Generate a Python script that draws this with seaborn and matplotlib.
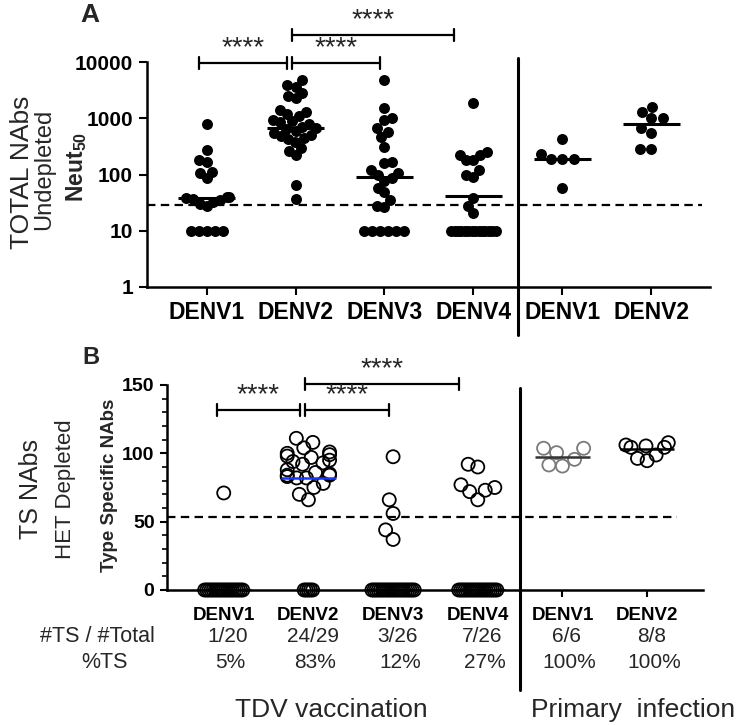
import numpy as np
import pandas as pd
import matplotlib
matplotlib.use("Agg")
import matplotlib.pyplot as plt
from matplotlib.transforms import blended_transform_factory
from matplotlib.ticker import MultipleLocator, NullLocator
import seaborn as sns

# grupos: vacuna TDV (4 serotipos) e infección primaria (2)
groups = ["TDV DENV1", "TDV DENV2", "TDV DENV3", "TDV DENV4", "PRIM DENV1", "PRIM DENV2"]
tick_labels = ["DENV1", "DENV2", "DENV3", "DENV4", "DENV1", "DENV2"]

# Panel A: Neut50 sin depletar
total_denv1 = [800, 268, 178, 170, 110, 105, 85, 40, 40, 38, 36, 35, 32, 30, 27,
               10, 10, 10, 10, 10]
total_denv2 = [4800, 3900, 3600, 2800, 2500, 2300, 1400, 1300, 1200, 1100, 950, 900,
               850, 800, 700, 680, 650, 600, 550, 500, 480, 450, 420, 380, 300, 260,
               220, 65, 37]
total_denv3 = [4800, 1500, 1000, 920, 660, 560, 460, 305, 165, 160, 118, 105, 96, 85,
               78, 57, 48, 35, 28, 26, 10, 10, 10, 10, 10, 10]
total_denv4 = [1860, 248, 219, 219, 180, 180, 118, 96, 89, 38, 28, 21,
               10, 10, 10, 10, 10, 10, 10, 10, 10, 10, 10, 10, 10, 10]
total_prim1 = [420, 235, 185, 185, 185, 58]
total_prim2 = [1590, 1290, 1030, 990, 680, 550, 280, 280]
total_lines = [38, 660, 92, 42, 192, 800]
total_cutoff = 28.7

# Panel B: NAbs tipo-específicos (HET depletados)
ts_denv1 = [71, 0, 0, 0, 0, 0, 0, 0, 0, 0, 0, 0, 0, 0, 0, 0, 0, 0, 0, 0]
ts_denv2 = [111, 108, 104, 101, 100, 99, 98, 97, 95, 94, 93, 92, 88, 86, 85, 84, 84,
            83, 82, 82, 78, 75, 70, 66, 0, 0, 0, 0, 0]
ts_denv3 = [97.5, 66, 56, 44, 37, 0, 0, 0, 0, 0, 0, 0, 0, 0, 0, 0, 0, 0, 0, 0, 0, 0,
            0, 0, 0, 0]
ts_denv4 = [92, 90, 77, 75, 73, 72, 66, 0, 0, 0, 0, 0, 0, 0, 0, 0, 0, 0, 0, 0, 0, 0,
            0, 0, 0, 0]
ts_prim1 = [103.7, 103.7, 100.5, 95.6, 91.5, 90.7]
ts_prim2 = [107.8, 106.1, 105.4, 104.4, 104.4, 98.8, 96.3, 94.6]
ts_lines = [0, 82, 0, 0, 97.5, 103]
ts_cutoff = 53.5

ts_counts = ["1/20", "24/29", "3/26", "7/26", "6/6", "8/8"]
ts_percent = ["5%", "83%", "12%", "27%", "100%", "100%"]

# comparaciones significativas (índices de grupo) y nivel del corchete
brackets = [(0, 1), (1, 2), (1, 3)]
bracket_level = [0, 0, 1]
bracket_trim = [0.1, 0.05, 0.22]

total_values = [total_denv1, total_denv2, total_denv3, total_denv4, total_prim1, total_prim2]
ts_values = [ts_denv1, ts_denv2, ts_denv3, ts_denv4, ts_prim1, ts_prim2]

df_a = pd.DataFrame({
    "group": [g for g, v in zip(groups, total_values) for _ in v],
    "neut": [x for v in total_values for x in v],
})
df_b = pd.DataFrame({
    "group": [g for g, v in zip(groups, ts_values) for _ in v],
    "ts": [x for v in ts_values for x in v],
})

sns.set_theme(style="ticks")
plt.rcParams["font.family"] = ["Liberation Sans", "DejaVu Sans"]
plt.rcParams["mathtext.fontset"] = "custom"
plt.rcParams["mathtext.rm"] = "Liberation Sans"
plt.rcParams["mathtext.bf"] = "Liberation Sans:bold"

W, H = 742, 725
fig = plt.figure(figsize=(W / 100, H / 100), dpi=100)
axA = fig.add_axes([147 / W, 1 - 287 / H, (710 - 147) / W, 225 / H])
axB = fig.add_axes([167 / W, 1 - 590 / H, (703 - 167) / W, 205 / H])
xlim = (-0.67, 5.66)


def squeeze(ax, half, step):
    # fija el enjambre y lo estrecha (puntos solapados como en GraphPad)
    ax.figure.canvas.draw()
    for coll in ax.collections:
        off = np.array(coll.get_offsets())
        if len(off) == 0:
            continue
        c = np.round(np.median(off[:, 0]))
        dev = off[:, 0] - c
        m = np.abs(dev).max()
        if m > half:
            off[:, 0] = c + dev * half / m
        # filas de valores repetidos: banda continua
        for yv in np.unique(off[:, 1]):
            idx = np.where(off[:, 1] == yv)[0]
            if len(idx) >= 5:
                w = min(half, step * (len(idx) - 1) / 2)
                idx = idx[np.argsort(off[idx, 0])]
                off[idx, 0] = c + np.linspace(-w, w, len(idx))
        coll.set_offsets(off)
        coll.set_clip_on(False)
        if "draw" in coll.__dict__:
            del coll.draw


def bracket(ax, x0, x1, y, h, trans):
    kw = dict(color="black", lw=1.6, transform=trans, clip_on=False)
    ax.plot([x0, x1], [y, y], **kw)
    ax.plot([x0, x0], [y - h, y + h], **kw)
    ax.plot([x1, x1], [y - h, y + h], **kw)


# ---------- Panel A ----------
sns.swarmplot(data=df_a, x="group", y="neut", order=groups, color="black",
              size=7.9, log_scale=True, warn_thresh=1, ax=axA)
axA.set_xlim(*xlim)
axA.set_ylim(1, 10000)
axA.set_yticks([1, 10, 100, 1000, 10000])
axA.set_yticklabels(["1", "10", "100", "1000", "10000"], fontweight="bold", fontsize=15)
axA.yaxis.set_minor_locator(NullLocator())
axA.set_xticks(range(len(groups)))
axA.set_xticklabels(tick_labels, fontweight="bold", fontsize=16.5)
axA.set_xlabel("")
axA.set_ylabel("")
squeeze(axA, 0.25, 0.09)

for i, v in enumerate(total_lines):
    axA.hlines(v, i - 0.32, i + 0.32, color="black", lw=2.2, zorder=4)
axA.plot([xlim[0], 5.57], [total_cutoff, total_cutoff], color="black", lw=1.6,
         ls=(0, (3.8, 2.4)), zorder=1)

ta = axA.get_xaxis_transform()
axA.plot([3.5, 3.5], [-0.213, 1.018], color="black", lw=2.2, transform=ta, clip_on=False)
for (i, j), lev, trim in zip(brackets, bracket_level, bracket_trim):
    x0 = i - (0.08 if i == 0 else 0.04)
    x1 = j - trim
    yb = 0.996 + 0.123 * lev
    bracket(axA, x0, x1, yb, 0.026, ta)
    axA.text((x0 + x1) / 2, yb + 0.008, "****", transform=ta, ha="center",
             va="bottom", fontsize=20)

# ---------- Panel B ----------
sns.swarmplot(data=df_b, x="group", y="ts", order=groups, color="black",
              size=9.4, linewidth=1.3, warn_thresh=1, ax=axB)
edge_colors = ["black", "black", "black", "black", "#7a7a7a", "black"]
for coll, ec in zip(axB.collections, edge_colors):
    coll.set_facecolor("none")
    coll.set_edgecolor(ec)
    coll.set_linewidth(1.3)
axB.set_xlim(*xlim)
axB.set_ylim(0, 150)
axB.yaxis.set_major_locator(MultipleLocator(50))
axB.yaxis.set_minor_locator(MultipleLocator(10))
axB.set_yticks([0, 50, 100, 150])
axB.set_yticklabels(["0", "50", "100", "150"], fontweight="bold", fontsize=14)
axB.set_xticks(range(len(groups)))
axB.set_xticklabels(tick_labels, fontweight="bold", fontsize=13.5)
axB.set_xlabel("")
axB.set_ylabel("")
squeeze(axB, 0.25, 0.025)

line_colors = ["black", "#1a35ff", "black", "black", "#333333", "black"]
for i, (v, c) in enumerate(zip(ts_lines, line_colors)):
    axB.hlines(v, i - 0.32, i + 0.32, color=c, lw=1.8, zorder=4)
axB.plot([xlim[0], 5.35], [ts_cutoff, ts_cutoff], color="black", lw=1.6,
         ls=(0, (3.8, 2.4)), zorder=1)

tb = axB.get_xaxis_transform()
axB.plot([3.5, 3.5], [-0.488, 0.985], color="black", lw=2.2, transform=tb, clip_on=False)
for (i, j), lev, trim in zip(brackets, bracket_level, bracket_trim):
    x0 = i - (0.08 if i == 0 else 0.04)
    x1 = j - trim
    yb = 131.7 + 19 * lev
    bracket(axB, x0, x1, yb, 4.4, axB.transData)
    axB.text((x0 + x1) / 2, yb + 1.0, "****", ha="center", va="bottom", fontsize=20)

for ax, ln in ((axA, 6), (axB, 5)):
    sns.despine(ax=ax)
    for s in ("left", "bottom"):
        ax.spines[s].set_linewidth(1.8)
        ax.spines[s].set_color("black")
    ax.tick_params(axis="both", which="major", length=ln, width=1.5, color="black",
                   pad=4, labelcolor="black")
    ax.tick_params(axis="y", which="minor", length=3.5, width=1.2, color="black")
axB.tick_params(axis="x", pad=7)

# tabla bajo el panel B
tt = blended_transform_factory(axB.transData, fig.transFigure)
for i, (cnt, pct) in enumerate(zip(ts_counts, ts_percent)):
    axB.text(i + 0.05, 1 - 637 / H, cnt, transform=tt, ha="center", va="center", fontsize=15)
    axB.text(i + 0.08, 1 - 663 / H, pct, transform=tt, ha="center", va="center", fontsize=15)

# textos de la figura
fig.text(97 / W, 1 - 637 / H, "#TS / #Total", ha="center", va="center", fontsize=15.5)
fig.text(105 / W, 1 - 663 / H, "%TS", ha="center", va="center", fontsize=15.5)
fig.text(331 / W, 1 - 710 / H, "TDV vaccination", ha="center", va="center", fontsize=19)
fig.text(633 / W, 1 - 710 / H, "Primary  infection", ha="center", va="center", fontsize=19)

fig.text(90 / W, 1 - 15 / H, "A", ha="center", va="center", fontsize=19, fontweight="bold")
fig.text(91 / W, 1 - 358 / H, "B", ha="center", va="center", fontsize=17, fontweight="bold")

fig.text(22 / W, 1 - 172 / H, "TOTAL NAbs", rotation=90, ha="center", va="center", fontsize=19)
fig.text(44 / W, 1 - 169 / H, "Undepleted", rotation=90, ha="center", va="center", fontsize=17)
fig.text(77 / W, 1 - 167 / H, r"$\mathbf{Neut_{50}}$", rotation=90, ha="center",
         va="center", fontsize=16.5)

fig.text(31 / W, 1 - 489 / H, "TS NAbs", rotation=90, ha="center", va="center", fontsize=18)
fig.text(66 / W, 1 - 489 / H, "HET Depleted", rotation=90, ha="center", va="center", fontsize=16)
fig.text(110 / W, 1 - 485 / H, "Type Specific NAbs", rotation=90, ha="center", va="center",
         fontsize=13.5, fontweight="bold")

fig.savefig("out.png", dpi=100)
